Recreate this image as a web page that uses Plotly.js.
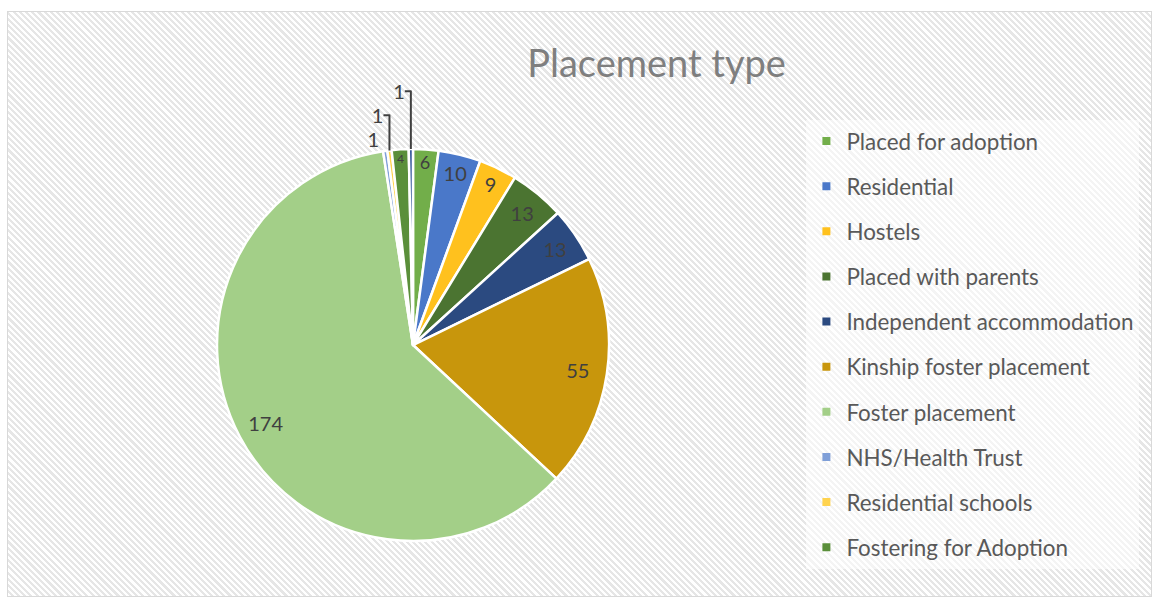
<!DOCTYPE html>
<html>
<head>
<meta charset="utf-8">
<script src="https://cdn.plot.ly/plotly-3.0.1.min.js"></script>
<style>
  html, body { margin: 0; padding: 0; background: #ffffff; }
  #wrap { position: absolute; left: 7px; top: 11px; width: 1145px; height: 586px;
          border: 1px solid #d9d9d9; box-sizing: border-box;
          background: repeating-linear-gradient(45deg, #ffffff 0px, #ffffff 2.2px, #e6e6e6 2.2px, #e6e6e6 4.4px); }
  #chart { position: absolute; left: 0; top: 0; width: 1152px; height: 597px; }
</style>
</head>
<body>
<div id="wrap"></div>
<div id="chart"></div>
<script>
const categories = ["Placed for adoption", "Residential", "Hostels", "Placed with parents",
  "Independent accommodation", "Kinship foster placement", "Foster placement",
  "NHS/Health Trust", "Residential schools", "Fostering for Adoption", "Other"];
const values = [6, 10, 9, 13, 13, 55, 174, 1, 1, 4, 1];
const colors = ["#72ae4a", "#4a78c9", "#ffc11e", "#4b7431", "#2b4a80", "#c8960c",
  "#a3cf88", "#7f9fd8", "#ffd34f", "#5a8f3a", "#34589a"];
const legendCount = 10;
const textPositions = ["inside", "inside", "inside", "inside", "inside", "inside", "inside",
  "outside", "outside", "inside", "outside"];

const pieDomain = { x: [0.18837, 0.52865], y: [0.0938, 0.7504] };
const fontFamily = "Lato, 'Open Sans', sans-serif";

// colored slices
const pie = {
  type: "pie",
  labels: categories,
  values: values,
  sort: false,
  direction: "clockwise",
  rotation: 0,
  showlegend: false,
  textinfo: "none",
  marker: { colors: colors, line: { color: "#ffffff", width: 2.5 } },
  domain: pieDomain,
  hoverinfo: "label+value"
};

// transparent ring carrying the value labels near the outer edge
const labelRing = {
  type: "pie",
  labels: categories,
  values: values,
  sort: false,
  direction: "clockwise",
  rotation: 0,
  hole: 0.7,
  showlegend: false,
  textinfo: "value",
  textposition: textPositions,
  insidetextorientation: "horizontal",
  textfont: { family: fontFamily, size: 20, color: "#404040" },
  outsidetextfont: { family: fontFamily, size: 20, color: "#404040" },
  marker: { colors: categories.map(() => "rgba(0,0,0,0)"), line: { width: 0 } },
  domain: pieDomain,
  hoverinfo: "skip"
};

const legendTraces = categories.slice(0, legendCount).map((name, i) => ({
  type: "scatter",
  mode: "markers",
  x: [null], y: [null],
  name: name,
  legendgroup: "g" + i,
  marker: { symbol: "square", size: 8, color: colors[i] },
  showlegend: true,
  hoverinfo: "skip"
}));

const layout = {
  width: 1152, height: 597,
  margin: { l: 0, r: 0, t: 0, b: 0 },
  paper_bgcolor: "rgba(0,0,0,0)",
  plot_bgcolor: "rgba(0,0,0,0)",
  title: {
    text: "Placement type",
    x: 0.570, xanchor: "center",
    y: 0.894, yanchor: "middle",
    font: { family: fontFamily, size: 38, color: "#7f7f7f" }
  },
  xaxis: { visible: false, domain: [0.99, 1] },
  yaxis: { visible: false, domain: [0.99, 1] },
  showlegend: true,
  legend: {
    x: 0.700, xanchor: "left",
    y: 1 - 120 / 597, yanchor: "top",
    bgcolor: "rgba(255,255,255,0.55)",
    font: { family: fontFamily, size: 22.4, color: "#595959" },
    tracegroupgap: 13,
    itemwidth: 30
  }
};

Plotly.newPlot("chart", [pie, labelRing].concat(legendTraces), layout, { displayModeBar: false, staticPlot: true });
</script>
</body>
</html>
